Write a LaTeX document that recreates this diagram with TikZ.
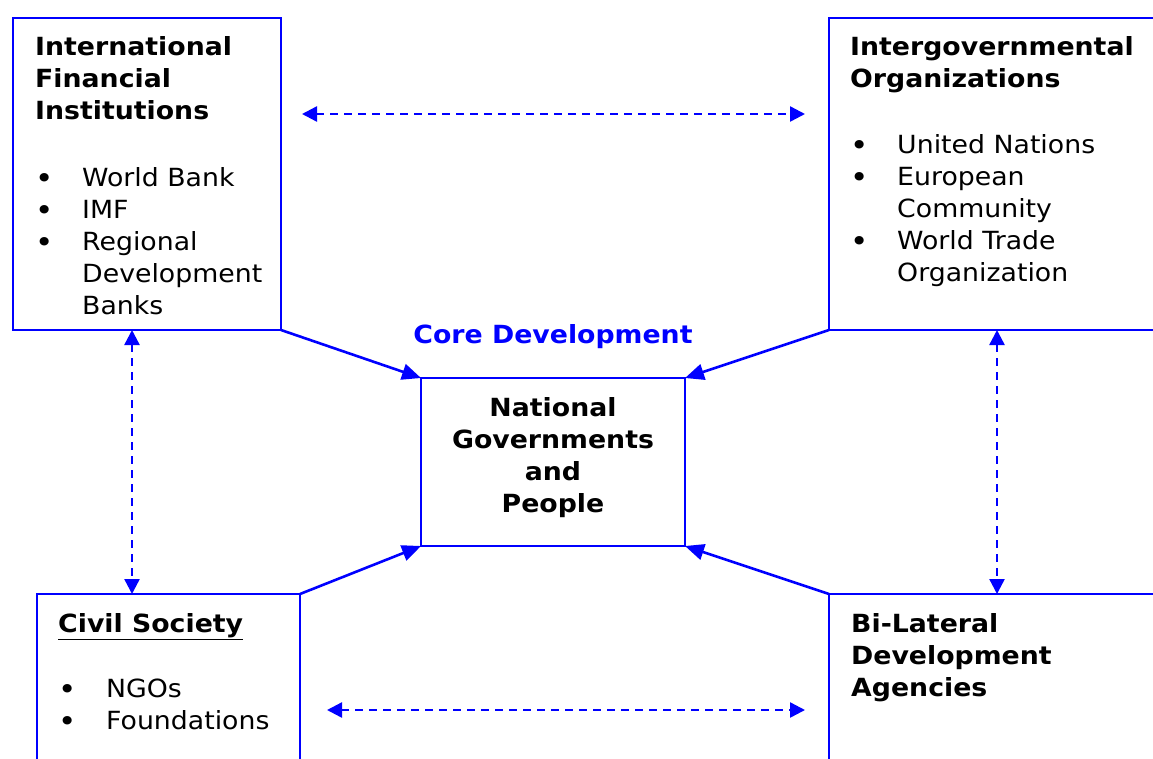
\documentclass[tikz,border=0pt]{standalone}
\usepackage{fontspec}
\setmainfont{DejaVu Sans}[FakeStretch=1.07]
\usepackage{tikz}
\usetikzlibrary{positioning}
\usetikzlibrary{arrows.meta}
\definecolor{orgblue}{RGB}{0,0,255}
\tikzset{
    orgbox/.style={ % Outline of each organisation box
        draw=orgblue,
        line width=2.6pt,
        inner sep=0pt,
        outer sep=0pt
    },
    boxtext/.style={ % Text set inside the boxes
        inner sep=0pt,
        font=\fontsize{25}{32}\selectfont
    },
    coreflow/.style={ % Solid arrows into the core box
        draw=orgblue,
        line width=2.6pt,
        -{Triangle[length=19pt,width=16pt]}
    },
    linkflow/.style={ % Dashed two-way links between the boxes
        draw=orgblue,
        line width=2.4pt,
        dash pattern=on 8pt off 6pt,
        {Triangle[length=15pt,width=15pt]}-{Triangle[length=15pt,width=15pt]}
    }
}
\renewcommand{\arraystretch}{1}
\newcommand{\orgdot}{\raisebox{-2.5pt}{\fontsize{29}{32}\selectfont\textbullet}}

\begin{document}
\begin{tikzpicture}[x=1pt,y=-1pt]
            \useasboundingbox (0,0) rectangle (1153,758);
            \clip (0,0) rectangle (1153,758);

            % boxes
            \node[orgbox, minimum width=268pt, minimum height=312pt] (ifi) at (147,174) {};
            \node[orgbox, minimum width=371pt, minimum height=312pt] (igo) at (1014.5,174) {};
            \node[orgbox, minimum width=263pt, minimum height=206pt] (civil) at (168.5,697) {};
            \node[orgbox, minimum width=371pt, minimum height=206pt] (bilat) at (1014.5,697) {};
            \node[orgbox, line width=2.2pt, minimum width=264pt, minimum height=168pt] (core) at (553,462) {};

            % texts
            \node[boxtext, below right=14.6pt and 22pt of ifi.north west] (ifitext) {%
                \begin{tabular}{@{}p{47pt}@{}l@{}}
                \multicolumn{2}{@{}l@{}}{\bfseries International}\\
                \multicolumn{2}{@{}l@{}}{\bfseries Financial}\\
                \multicolumn{2}{@{}l@{}}{\bfseries Institutions}\\[35pt]
                \orgdot & World Bank\\
                \orgdot & IMF\\
                \orgdot & Regional\\
                & Development\\
                & Banks
                \end{tabular}};
            \node[boxtext, below right=14.6pt and 21pt of igo.north west] (igotext) {%
                \begin{tabular}{@{}p{47pt}@{}l@{}}
                \multicolumn{2}{@{}l@{}}{\bfseries Intergovernmental}\\
                \multicolumn{2}{@{}l@{}}{\bfseries Organizations}\\[34pt]
                \orgdot & United Nations\\
                \orgdot & European\\
                & Community\\
                \orgdot & World Trade\\
                & Organization
                \end{tabular}};
            \node[boxtext, below right=15.6pt and 21pt of civil.north west] (civiltext) {%
                \begin{tabular}{@{}p{48pt}@{}l@{}}
                \multicolumn{2}{@{}l@{}}{\bfseries\underline{Civil Society}}\\[33pt]
                \orgdot & NGOs\\
                \orgdot & Foundations
                \end{tabular}};
            \node[boxtext, below right=15.6pt and 22pt of bilat.north west] (bilattext) {%
                \begin{tabular}{@{}l@{}}
                \bfseries Bi-Lateral\\
                \bfseries Development\\
                \bfseries Agencies
                \end{tabular}};
            \node[boxtext, below=15.6pt of core.north] (coretext) {%
                \begin{tabular}{@{}c@{}}
                \bfseries National\\
                \bfseries Governments\\
                \bfseries and\\
                \bfseries People
                \end{tabular}};
            \node[boxtext, text=orgblue, above=35pt of core.north, anchor=base] (corelabel) {\bfseries Core Development};

            % link points
            \coordinate (ifitop) at ([xshift=21pt,yshift=-96pt]ifi.north east);
            \coordinate (igotop) at ([xshift=-24pt,yshift=-96pt]igo.north west);
            \coordinate (civilbot) at ([xshift=27pt,yshift=-116pt]civil.north east);
            \coordinate (bilatbot) at ([xshift=-24pt,yshift=-116pt]bilat.north west);
            \coordinate (ifileft) at ([xshift=119pt]ifi.south west);
            \coordinate (civilleft) at ([xshift=95pt]civil.north west);
            \coordinate (igoright) at ([xshift=168pt]igo.south west);
            \coordinate (bilatright) at ([xshift=168pt]bilat.north west);

            \draw[coreflow] (ifi.south east) -- (core.north west);
            \draw[coreflow] (igo.south west) -- (core.north east);
            \draw[coreflow] (civil.north east) -- (core.south west);
            \draw[coreflow] (bilat.north west) -- (core.south east);

            \draw[linkflow] (ifitop) -- (igotop);
            \draw[linkflow] (civilbot) -- (bilatbot);
            \draw[linkflow] (ifileft) -- (civilleft);
            \draw[linkflow] (igoright) -- (bilatright);

        \end{tikzpicture}
\end{document}
